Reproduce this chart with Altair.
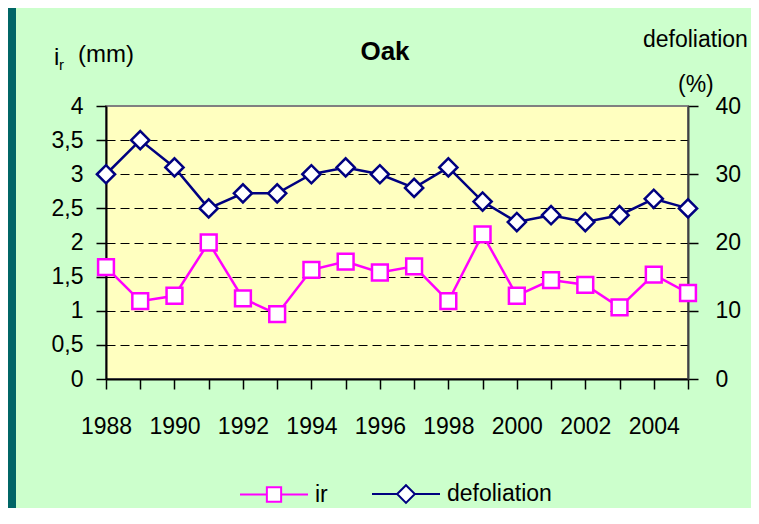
import altair as alt
import pandas as pd

years = [1988, 1989, 1990, 1991, 1992, 1993, 1994, 1995, 1996,
         1997, 1998, 1999, 2000, 2001, 2002, 2003, 2004, 2005]
ir = [1.64, 1.14, 1.22, 2.00, 1.18, 0.95, 1.60, 1.72, 1.56,
      1.65, 1.14, 2.12, 1.22, 1.45, 1.38, 1.05, 1.53, 1.26]
defoliation = [30, 35, 31, 25, 27.2, 27.2, 30, 31, 30,
               28, 31, 26, 23, 24, 23, 24, 26.4, 25]
series_names = ["ir", "defoliation"]
series_colors = ["#FF00FF", "#000080"]
left_ticks = [0, 0.5, 1, 1.5, 2, 2.5, 3, 3.5, 4]
right_ticks = [0, 10, 20, 30, 40]
chart_title = "Oak"
left_title = ["i", "r", "(mm)"]
right_title = ["defoliation", "(%)"]

FONT = "Liberation Sans, Arial, sans-serif"
FS = 23

df = pd.DataFrame({
    "year": years + years,
    "value": ir + defoliation,
    "series": [series_names[0]] * len(years) + [series_names[1]] * len(years),
})

SQ = "M-1,0H-0.21M-0.21,-0.21H0.21V0.21H-0.21ZM0.21,0H1"
DI = "M-1,0H-0.26M-0.26,0L0,-0.26L0.26,0L0,0.26ZM0.26,0H1"

x_enc = alt.X(
    "year:Q",
    scale=alt.Scale(domain=[years[0], years[-1]], nice=False, zero=False),
    axis=alt.Axis(values=years, labelExpr="datum.value % 2 == 0 ? toString(datum.value) : ''",
                  title=None, tickSize=10, labelPadding=26, domainColor="black", domainWidth=2,
                  tickColor="black", tickWidth=1.5, labelFontSize=FS, labelFont=FONT,
                  labelColor="black", grid=False, labelOverlap=False, labelFlush=False),
)

color_enc = alt.Color(
    "series:N",
    scale=alt.Scale(domain=series_names, range=series_colors),
    legend=alt.Legend(
        title=None, orient="none", legendX=133, legendY=353, direction="horizontal",
        labelFontSize=FS, labelFont=FONT, labelColor="black", labelOffset=6,
        columnPadding=40, symbolSize=4624, symbolStrokeWidth=2,
        symbolType=alt.ExprRef(expr="datum.value === 'ir' ? '" + SQ + "' : '" + DI + "'"),
        symbolFillColor="white", symbolOpacity=1,
    ),
)

base = alt.Chart(df)

y_left = alt.Y(
    "value:Q",
    scale=alt.Scale(domain=[0, 4], nice=False),
    axis=alt.Axis(values=left_ticks, labelExpr="replace(toString(datum.value), '.', ',')",
                  orient="left", title=None, tickSize=10, labelPadding=13, labelOverlap=False,
                  domainColor="black", domainWidth=2, tickColor="black", tickWidth=1.5,
                  grid=True, gridDash=[9, 5], gridColor="black", gridWidth=1.2,
                  gridOpacity={"condition": {"test": "datum.value >= 4 || datum.value <= 0", "value": 0}, "value": 1},
                  labelFontSize=FS, labelFont=FONT, labelColor="black", labelFlush=False),
)
y_right = alt.Y(
    "value:Q",
    scale=alt.Scale(domain=[0, 40], nice=False),
    axis=alt.Axis(values=right_ticks, orient="right", title=None, tickSize=10, labelPadding=17,
                  labelOverlap=False, labelFlush=False,
                  domainColor="#404040", domainWidth=2, tickColor="black", tickWidth=1.5,
                  grid=False, labelFontSize=FS, labelFont=FONT, labelColor="black"),
)

ir_data = base.transform_filter(alt.datum.series == series_names[0])
de_data = base.transform_filter(alt.datum.series == series_names[1])

ir_layer = alt.layer(
    ir_data.mark_line(strokeWidth=2.5).encode(x=x_enc, y=y_left, color=color_enc),
    ir_data.mark_point(shape="square", filled=True, fill="white", stroke=series_colors[0],
                       strokeWidth=2.5, size=250, opacity=1).encode(x=x_enc, y=y_left),
)
de_layer = alt.layer(
    de_data.mark_line(strokeWidth=2.5).encode(x=x_enc, y=y_right, color=color_enc),
    de_data.mark_point(shape="diamond", filled=True, fill="white", stroke=series_colors[1],
                       strokeWidth=2.5, size=330, opacity=1).encode(x=x_enc, y=y_right),
)


def label(text, x, y, size=FS, bold=False, align="left"):
    return alt.Chart(alt.Data(values=[{"t": text}])).mark_text(
        font=FONT, fontSize=size, fontWeight="bold" if bold else "normal",
        align=align, baseline="alphabetic", color="black",
    ).encode(x=alt.value(x), y=alt.value(y), text="t:N")


stripe = alt.Chart(alt.Data(values=[{"a": 1}])).mark_rect(color="#006666").encode(
    x=alt.value(-98), x2=alt.value(-90), y=alt.value(-98), y2=alt.value(402)
)

texts = [
    label(chart_title, 279, -46, size=26, bold=True, align="center"),
    label(left_title[0], -52, -41, size=24),
    label(left_title[1], -47, -36, size=15),
    label(left_title[2], -28, -44, size=24),
    label(right_title[0], 537, -59),
    label(right_title[1], 572, -14),
]

chart = alt.layer(ir_layer, de_layer, stripe, *texts).resolve_scale(y="independent").properties(
    width=582, height=273,
    autosize=alt.AutoSizeParams(type="none"),
    padding={"left": 98, "top": 98, "right": 63, "bottom": 129},
    background="#CCFFCC",
).configure_view(stroke="#808080", strokeWidth=2, fill="#FFFFC0")

chart.save("out.html", embed_options={"renderer": "svg", "actions": False})
